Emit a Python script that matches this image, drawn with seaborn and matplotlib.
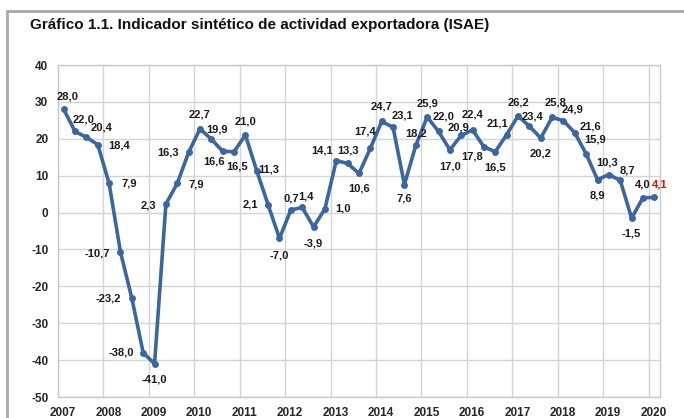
"""
Gráfico 1.1 - Indicador sintético de actividad exportadora (ISAE), serie trimestral 2007-2020.
"""

import numpy as np
import pandas as pd
import matplotlib
matplotlib.use('Agg')
import matplotlib.pyplot as plt
import matplotlib.transforms as mtransforms
from matplotlib.lines import Line2D
import seaborn as sns

# --- Data (variación interanual, %) ---
years = ['2007', '2008', '2009', '2010', '2011', '2012', '2013',
         '2014', '2015', '2016', '2017', '2018', '2019', '2020']
isae = [28.0, 22.0, 20.4, 18.4, 7.9, -10.7, -23.2, -38.0, -41.0, 2.3,
        7.9, 16.3, 22.7, 19.9, 16.6, 16.5, 21.0, 11.3, 2.1, -7.0,
        0.7, 1.4, -3.9, 1.0, 14.1, 13.3, 10.6, 17.4, 24.7, 23.1,
        7.6, 18.2, 25.9, 22.0, 17.0, 20.9, 22.4, 17.8, 16.5, 21.1,
        26.2, 23.4, 20.2, 25.8, 24.9, 21.6, 15.9, 8.9, 10.3, 8.7,
        -1.5, 4.0, 4.1]
y_ticks = list(range(-50, 41, 10))

# label offsets in pixels (dx, dy with y pointing down as in the picture)
label_offsets = [
    (4, -13), (9, -12), (15, -10), (21, 1), (20, 0), (-23, 1), (-23, 0), (-22, 0), (0, 16), (-18, 1),
    (19, 1), (-21, 0), (0, -14), (6, -10), (-9, 10), (3, 15), (0, -14), (12, -1), (-18, 0), (0, 17),
    (0, -11), (4, -11), (0, 17), (18, 0), (-14, -10), (0, -13), (0, 15), (-5, -17), (0, -15), (9, -12),
    (0, 14), (0, -12), (0, -14), (5, -15), (0, 17), (-3, -8), (0, -15), (-12, 10), (0, 16), (-9, -11),
    (0, -13), (3, -10), (0, 15), (3, -15), (9, -11), (16, -6), (9, -14), (0, 16), (-2, -12), (7, -10),
    (0, 15), (0, -13), (5, -13),
]

df = pd.DataFrame({'q': np.arange(len(isae)) + 0.5, 'isae': isae})

sns.set_style('white')
plt.rcParams['font.family'] = ['Liberation Sans', 'DejaVu Sans']
plt.rcParams['axes.unicode_minus'] = False

W, H = 684, 418
fig = plt.figure(figsize=(W / 100, H / 100), dpi=100)
ax = fig.add_axes([58 / W, (H - 397) / H, (660 - 58) / W, (397 - 65) / H])

line_color = '#3B66A0'
grid_color = '#D4D4D4'

sns.lineplot(data=df, x='q', y='isae', ax=ax, color=line_color, linewidth=2.6,
             marker='o', markersize=5, markeredgewidth=0, zorder=3)

ax.set_xlim(0, len(isae))
ax.set_ylim(-50, 40)
ax.set_yticks(y_ticks)
ax.set_yticklabels([str(t) for t in y_ticks])
ax.set_xticks(np.arange(len(years)) * 4)
ax.set_xticklabels(years)
ax.tick_params(axis='both', length=0, labelsize=8.5)
ax.tick_params(axis='x', pad=7)
ax.tick_params(axis='y', pad=7)
for lab in ax.get_xticklabels() + ax.get_yticklabels():
    lab.set_fontweight('bold')
# year labels sit a little to the right of the gridlines
shift = mtransforms.ScaledTranslation(5 / 100, 0, fig.dpi_scale_trans)
for lab in ax.get_xticklabels():
    lab.set_transform(lab.get_transform() + shift)

ax.grid(True, color=grid_color, linewidth=1.0)
ax.set_axisbelow(True)
for s in ax.spines.values():
    s.set_color('#C8C8C8')
    s.set_linewidth(1.0)
ax.set_xlabel('')
ax.set_ylabel('')

# data labels
for i, v in enumerate(isae):
    dx, dy = label_offsets[i]
    ax.annotate(f'{v:.1f}'.replace('.', ','), (i + 0.5, v),
                xytext=(dx, -dy), textcoords='offset pixels',
                ha='center', va='center', fontsize=8, fontweight='bold',
                color='red' if i == len(isae) - 1 else '#1A1A1A', zorder=4)

# title and outer frame
fig.text(30 / W, 1 - 25 / H,
         'Gráfico 1.1. Indicador sintético de actividad exportadora (ISAE)',
         fontsize=11, fontweight='bold', ha='left', va='center', color='#111111')
fig.add_artist(Line2D([7 / W, 1], [1 - 11 / H, 1 - 11 / H], transform=fig.transFigure,
                      color='#A8A8A8', linewidth=2))
fig.add_artist(Line2D([7 / W, 7 / W], [0, 1 - 11 / H], transform=fig.transFigure,
                      color='#A8A8A8', linewidth=2))

fig.savefig('out.png', dpi=100)
